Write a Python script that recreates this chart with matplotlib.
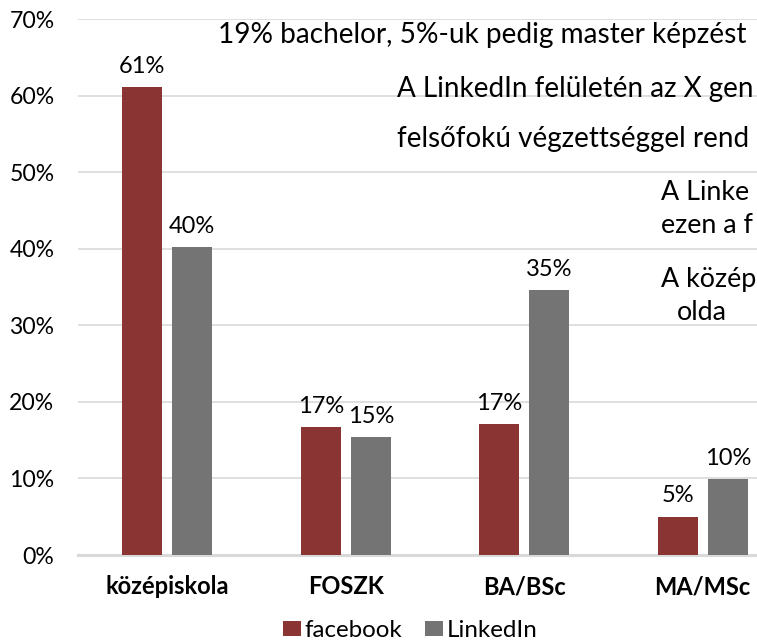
import matplotlib
matplotlib.use('Agg')
import matplotlib.pyplot as plt
import numpy as np

plt.rcParams['font.family'] = ['Lato', 'DejaVu Sans']

categories = ['középiskola', 'FOSZK', 'BA/BSc', 'MA/MSc']
facebook = [61.1, 16.7, 17.1, 5.0]
linkedin = [40.2, 15.4, 34.6, 9.9]
series_names = ['facebook', 'LinkedIn']
yticks = [0, 10, 20, 30, 40, 50, 60, 70]

# slide text behind the chart, only the part that is visible in the picture
# (text, left x px, baseline y px, size)
overlay = [
    ('19% bachelor, 5%-uk pedig master képzést', 218, 43, 20.2),
    ('A LinkedIn felületén az X gen', 397, 97, 20.0),
    ('felsőfokú végzettséggel rend', 397, 147, 20.0),
    ('A Linke', 661, 200, 19.4),
    ('ezen a f', 661, 233, 19.4),
    ('A közép', 661, 287, 19.4),
    ('olda', 677, 320, 19.4),
]

FB_COLOR = '#8a3433'
LI_COLOR = '#747474'
GRID = '#d9d9d9'

W, H = 757, 641
fig = plt.figure(figsize=(W / 100, H / 100), dpi=100)
ax = fig.add_axes([78 / W, 86 / H, (792 - 78) / W, (555 - 19) / H])

x = np.arange(len(categories))
bw = 0.224
off = 0.14
b1 = ax.bar(x - off, facebook, bw, color=FB_COLOR, label=series_names[0], zorder=3)
b2 = ax.bar(x + off, linkedin, bw, color=LI_COLOR, label=series_names[1], zorder=3)

for bars in (b1, b2):
    for r in bars:
        h = r.get_height()
        ax.annotate(f'{h:.0f}%', xy=(r.get_x() + r.get_width() / 2, h),
                    xytext=(0, 7.5), textcoords='offset points',
                    ha='center', va='bottom', fontsize=17, color='black',
                    zorder=4)

ax.set_xlim(-0.5, 3.5)
ax.set_ylim(0, 70)
ax.set_yticks(yticks)
ax.set_yticklabels([f'{t}%' for t in yticks])
ax.set_xticks(x)
ax.set_xticklabels(categories, fontweight='bold')
ax.tick_params(axis='y', length=0, pad=17, labelsize=16.6)
ax.tick_params(axis='x', length=0, pad=14.5, labelsize=17)

ax.yaxis.grid(True, color=GRID, linewidth=1.2, zorder=0)
for s in ['top', 'right', 'left']:
    ax.spines[s].set_visible(False)
ax.spines['bottom'].set_color(GRID)
ax.spines['bottom'].set_linewidth(2.2)
ax.spines['bottom'].set_zorder(2)

for txt, px, py, fs in overlay:
    fig.text(px / W, 1 - py / H, txt, ha='left', va='baseline', fontsize=fs)

fig.legend(handles=[b1, b2], labels=series_names, loc='lower center',
           bbox_to_anchor=(410 / W, 0.0), ncol=2, frameon=False,
           fontsize=17.4, handlelength=0.74, handleheight=0.54,
           handletextpad=0.15, columnspacing=0.95, borderpad=0,
           borderaxespad=0)

fig.savefig('out.png', dpi=100)
